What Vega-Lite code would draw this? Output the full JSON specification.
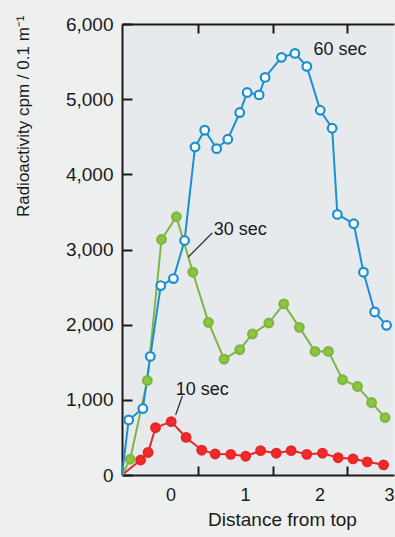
{
  "$schema": "https://vega.github.io/schema/vega-lite/v6.json",
  "autosize": {"type": "none"},
  "width": 272,
  "height": 451,
  "padding": {"left": 122, "top": 24, "right": 1, "bottom": 62},
  "background": "#eef0ef",
  "config": {
    "view": {"fill": "#e6eaed", "stroke": null},
    "font": "Liberation Sans",
    "axis": {"domainColor": "#1a1a1a", "tickColor": "#1a1a1a", "labelColor": "#1a1a1a", "titleColor": "#1a1a1a", "grid": false, "labelFont": "Liberation Sans", "titleFont": "Liberation Sans", "titleFontWeight": "normal"}
  },
  "datasets": {
    "series": [
      {"series": "10 sec", "x": -0.65, "y": 0},
      {"series": "10 sec", "x": -0.40, "y": 200},
      {"series": "10 sec", "x": -0.30, "y": 300},
      {"series": "10 sec", "x": -0.20, "y": 630},
      {"series": "10 sec", "x": 0.01, "y": 710},
      {"series": "10 sec", "x": 0.21, "y": 500},
      {"series": "10 sec", "x": 0.42, "y": 330},
      {"series": "10 sec", "x": 0.60, "y": 280},
      {"series": "10 sec", "x": 0.81, "y": 275},
      {"series": "10 sec", "x": 1.01, "y": 250},
      {"series": "10 sec", "x": 1.21, "y": 325},
      {"series": "10 sec", "x": 1.42, "y": 290},
      {"series": "10 sec", "x": 1.62, "y": 325},
      {"series": "10 sec", "x": 1.83, "y": 275},
      {"series": "10 sec", "x": 2.04, "y": 290},
      {"series": "10 sec", "x": 2.25, "y": 230},
      {"series": "10 sec", "x": 2.45, "y": 215},
      {"series": "10 sec", "x": 2.64, "y": 175},
      {"series": "10 sec", "x": 2.86, "y": 135},
      {"series": "30 sec", "x": -0.65, "y": 0},
      {"series": "30 sec", "x": -0.54, "y": 210},
      {"series": "30 sec", "x": -0.31, "y": 1257},
      {"series": "30 sec", "x": -0.12, "y": 3133},
      {"series": "30 sec", "x": 0.08, "y": 3436},
      {"series": "30 sec", "x": 0.30, "y": 2698},
      {"series": "30 sec", "x": 0.51, "y": 2031},
      {"series": "30 sec", "x": 0.72, "y": 1542},
      {"series": "30 sec", "x": 0.93, "y": 1667},
      {"series": "30 sec", "x": 1.10, "y": 1876},
      {"series": "30 sec", "x": 1.32, "y": 2022},
      {"series": "30 sec", "x": 1.52, "y": 2276},
      {"series": "30 sec", "x": 1.73, "y": 1964},
      {"series": "30 sec", "x": 1.94, "y": 1644},
      {"series": "30 sec", "x": 2.12, "y": 1644},
      {"series": "30 sec", "x": 2.31, "y": 1267},
      {"series": "30 sec", "x": 2.51, "y": 1178},
      {"series": "30 sec", "x": 2.70, "y": 964},
      {"series": "30 sec", "x": 2.88, "y": 764},
      {"series": "60 sec", "x": -0.65, "y": 0},
      {"series": "60 sec", "x": -0.56, "y": 733},
      {"series": "60 sec", "x": -0.37, "y": 884},
      {"series": "60 sec", "x": -0.27, "y": 1578},
      {"series": "60 sec", "x": -0.13, "y": 2520},
      {"series": "60 sec", "x": 0.04, "y": 2613},
      {"series": "60 sec", "x": 0.19, "y": 3120},
      {"series": "60 sec", "x": 0.33, "y": 4364},
      {"series": "60 sec", "x": 0.46, "y": 4587},
      {"series": "60 sec", "x": 0.62, "y": 4342},
      {"series": "60 sec", "x": 0.77, "y": 4467},
      {"series": "60 sec", "x": 0.93, "y": 4822},
      {"series": "60 sec", "x": 1.03, "y": 5089},
      {"series": "60 sec", "x": 1.19, "y": 5057},
      {"series": "60 sec", "x": 1.27, "y": 5289},
      {"series": "60 sec", "x": 1.49, "y": 5556},
      {"series": "60 sec", "x": 1.67, "y": 5609},
      {"series": "60 sec", "x": 1.83, "y": 5436},
      {"series": "60 sec", "x": 2.01, "y": 4853},
      {"series": "60 sec", "x": 2.17, "y": 4613},
      {"series": "60 sec", "x": 2.24, "y": 3467},
      {"series": "60 sec", "x": 2.46, "y": 3343},
      {"series": "60 sec", "x": 2.59, "y": 2698},
      {"series": "60 sec", "x": 2.74, "y": 2169},
      {"series": "60 sec", "x": 2.90, "y": 1991}
    ],
    "labels": [
      {"label": "60 sec", "x": 1.92, "y": 5654},
      {"label": "30 sec", "x": 0.58, "y": 3259},
      {"label": "10 sec", "x": 0.07, "y": 1131}
    ],
    "leaders": [
      {"x": 0.56, "y": 3219, "x2": 0.24, "y2": 2900},
      {"x": 0.16, "y": 1051, "x2": 0.07, "y2": 798}
    ]
  },
  "encoding": {
    "y": {
      "field": "y", "type": "quantitative",
      "scale": {"domain": [0, 6000], "nice": false},
      "axis": {
        "values": [0, 1000, 2000, 3000, 4000, 5000, 6000], "format": ",d",
        "title": "Radioactivity cpm / 0.1 m⁻¹",
        "titleFontSize": 17, "titleAnchor": "end", "titleY": -9, "titleX": -90,
        "labelFontSize": 19, "labelFlush": false,
        "tickSize": -10, "tickWidth": 2, "labelPadding": 19,
        "domainWidth": 2
      }
    }
  },
  "layer": [
    {
      "data": {"name": "series"},
      "mark": {"type": "line", "strokeWidth": 2},
      "encoding": {
        "x": {
          "field": "x", "type": "quantitative",
          "scale": {"domain": [-0.65, 3.0], "nice": false, "zero": false},
          "axis": {
            "values": [0, 1, 2, 3], "format": "d",
            "title": "Distance from top",
            "titleFontSize": 19, "titleX": 160, "titlePadding": 6,
            "labelFontSize": 18, "labelFlush": true,
            "tickSize": -9, "tickWidth": 2, "tickOffset": 28, "labelOffset": -28, "labelPadding": 20,
            "domainWidth": 2
          }
        },
        "detail": {"field": "series"},
        "stroke": {"field": "series", "type": "nominal", "legend": null,
          "scale": {"domain": ["10 sec", "30 sec", "60 sec"], "range": ["#e8262a", "#7db540", "#1b8fd2"]}}
      }
    },
    {
      "data": {"name": "series"},
      "transform": [{"filter": "datum.x > -0.6"}],
      "mark": {"type": "point", "filled": false, "strokeWidth": 2.2, "size": 75, "opacity": 1},
      "encoding": {
        "x": {"field": "x", "type": "quantitative", "axis": null},
        "stroke": {"field": "series", "type": "nominal", "legend": null},
        "fill": {"field": "series", "type": "nominal", "legend": null,
          "scale": {"domain": ["10 sec", "30 sec", "60 sec"], "range": ["#ee2a2a", "#8dc63f", "#ffffff"]}}
      }
    },
    {
      "data": {"name": "leaders"},
      "mark": {"type": "rule", "color": "#333333", "strokeWidth": 1.3},
      "encoding": {
        "x": {"field": "x", "type": "quantitative", "axis": null},
        "x2": {"field": "x2"},
        "y2": {"field": "y2"}
      }
    },
    {
      "data": {"name": "labels"},
      "mark": {"type": "text", "align": "left", "baseline": "middle", "fontSize": 18, "color": "#1a1a1a", "font": "Liberation Sans"},
      "encoding": {
        "x": {"field": "x", "type": "quantitative", "axis": null},
        "text": {"field": "label"}
      }
    },
    {
      "data": {"name": "labels"},
      "mark": {"type": "rule", "opacity": 0},
      "encoding": {
        "x": {"field": "x", "type": "quantitative", "axis": {"orient": "top", "labels": false, "title": null, "values": [0, 1, 2], "tickSize": -9, "tickWidth": 2, "tickOffset": 28, "domainWidth": 2}}
      }
    }
  ],
  "resolve": {"axis": {"x": "independent"}}
}
